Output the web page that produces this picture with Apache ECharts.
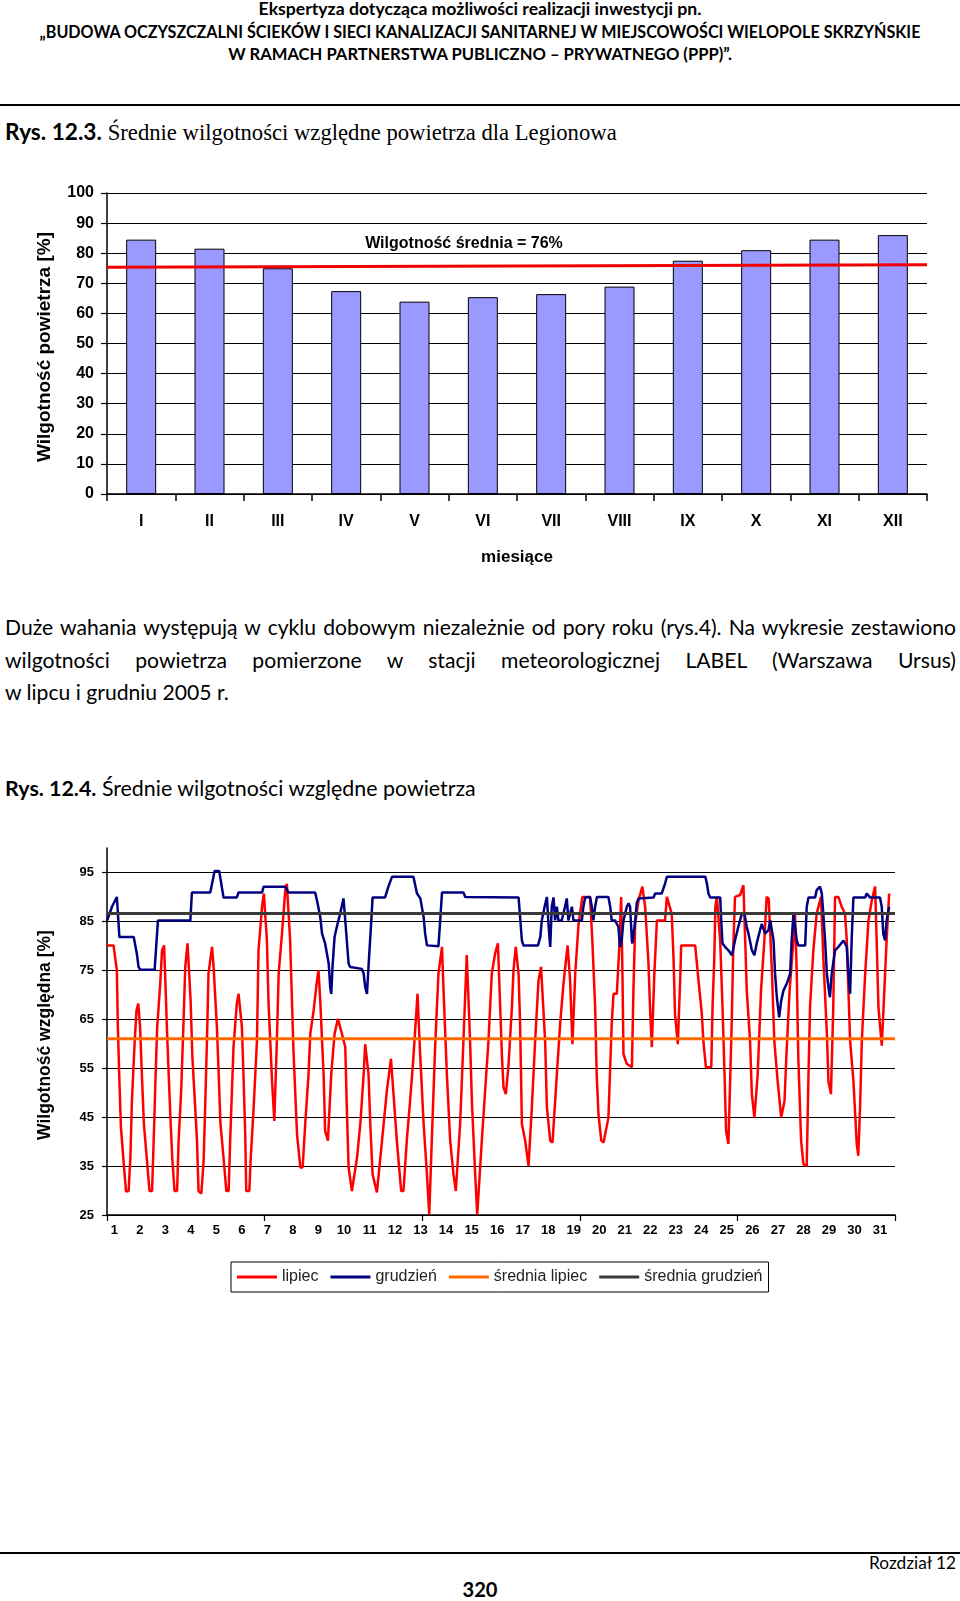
<!DOCTYPE html>
<html><head><meta charset="utf-8">
<script src="https://cdn.jsdelivr.net/npm/echarts@6.0.0/dist/echarts.min.js"></script>
<style>
html,body{margin:0;padding:0;background:#fff;}
body{width:960px;height:1601px;position:relative;overflow:hidden;font-family:Lato,'Open Sans',sans-serif;color:#000;}
.t{position:absolute;white-space:nowrap;line-height:1;}
.rule{position:absolute;left:0;width:960px;background:#000;}
.serif{font-family:'Liberation Serif','DejaVu Serif',serif;}
#c1{position:absolute;left:0;top:150px;width:960px;height:430px;}
#c2{position:absolute;left:0;top:800px;width:960px;height:520px;}
</style></head><body>
<div class="t" id="h1" style="font-weight:bold;font-size:15px"><span>Ekspertyza dotycząca możliwości realizacji inwestycji pn.</span></div>
<div class="t" id="h2" style="font-weight:bold;font-size:15px"><span>„BUDOWA OCZYSZCZALNI ŚCIEKÓW I SIECI KANALIZACJI SANITARNEJ W MIEJSCOWOŚCI WIELOPOLE SKRZYŃSKIE</span></div>
<div class="t" id="h3" style="font-weight:bold;font-size:15px"><span>W RAMACH PARTNERSTWA PUBLICZNO – PRYWATNEGO (PPP)”.</span></div>
<div class="rule" style="top:104px;height:2px"></div>
<div class="t" id="cap1" style="font-size:19px"><span><b>Rys. 12.3.</b> <span class="serif">Średnie wilgotności względne powietrza dla Legionowa</span></span></div>
<div id="c1"></div>
<div class="t" id="p1" style="font-size:19px"><span>Duże wahania występują w cyklu dobowym niezależnie od pory roku (rys.4). Na wykresie zestawiono</span></div>
<div class="t" id="p2" style="font-size:19px"><span>wilgotności powietrza pomierzone w stacji meteorologicznej LABEL (Warszawa Ursus)</span></div>
<div class="t" id="p3" style="font-size:19px"><span>w lipcu i grudniu 2005 r.</span></div>
<div class="t" id="cap2" style="font-size:19px"><span><b>Rys. 12.4.</b> Średnie wilgotności względne powietrza</span></div>
<div id="c2"></div>
<div class="rule" style="top:1552px;height:2px"></div>
<div class="t" id="f1" style="font-size:16px"><span>Rozdział 12</span></div>
<div class="t" id="f2" style="font-weight:bold;font-size:20px"><span>320</span></div>
<script>
// ---------- Chart 1 data ----------
const months = ['I','II','III','IV','V','VI','VII','VIII','IX','X','XI','XII'];
const monthlyHumidity = [84.5, 81.5, 75.0, 67.4, 63.9, 65.4, 66.4, 68.9, 77.5, 81.0, 84.5, 86.0];
const meanLine = [75.3, 76.2];
const meanLabel = 'Wilgotność średnia = 76%';

// ---------- Chart 2 data ----------
const dayLabels = [1,2,3,4,5,6,7,8,9,10,11,12,13,14,15,16,17,18,19,20,21,22,23,24,25,26,27,28,29,30,31];
const humTicks = [25,35,45,55,65,75,85,95];
const avgLipiec = 61.0;
const avgGrudzien = 86.6;
const lipiec = [
[0.71,80.1],[0.97,80.1],[1.10,75.0],[1.14,63.4],[1.20,52.4],[1.26,42.9],[1.36,36.1],[1.46,29.8],[1.56,29.9],[1.63,36.7],[1.69,48.3],[1.80,60.6],[1.87,66.8],[1.94,68.2],[2.01,63.4],[2.08,53.8],[2.16,43.6],[2.28,36.1],[2.38,29.9],[2.48,29.9],[2.55,41.5],[2.62,53.8],[2.68,63.4],[2.80,72.3],[2.87,79.1],[2.95,80.1],[3.00,72.9],[3.06,63.4],[3.13,53.8],[3.21,43.6],[3.27,36.7],[3.36,29.9],[3.46,29.9],[3.52,40.2],[3.62,50.4],[3.71,64.1],[3.78,75.7],[3.87,80.5],[3.94,80.1],[3.99,68.8],[4.06,57.2],[4.17,47.0],[4.24,40.2],[4.30,29.9],[4.41,29.4],[4.50,36.1],[4.56,47.0],[4.63,60.6],[4.69,74.3],[4.83,79.8],[4.89,75.7],[5.02,63.4],[5.09,53.8],[5.16,43.6],[5.28,36.7],[5.39,29.9],[5.48,29.9],[5.54,40.2],[5.67,59.3],[5.80,68.2],[5.87,70.2],[6.00,63.4],[6.06,53.8],[6.13,41.5],[6.17,29.9],[6.29,29.9],[6.34,36.1],[6.46,47.0],[6.59,60.6],[6.65,79.1],[6.79,88.0],[6.86,90.7],[6.98,81.1],[7.04,68.8],[7.18,52.4],[7.27,44.2],[7.37,60.6],[7.44,74.3],[7.57,82.5],[7.70,91.4],[7.76,92.7],[7.89,81.1],[8.02,58.6],[8.16,41.5],[8.29,34.7],[8.38,34.7],[8.48,43.6],[8.61,53.8],[8.68,62.0],[8.81,66.8],[8.94,72.9],[9.00,75.0],[9.07,68.8],[9.14,60.6],[9.20,53.8],[9.26,42.2],[9.37,40.2],[9.50,53.8],[9.63,62.0],[9.76,65.1],[9.92,62.0],[10.05,59.3],[10.11,47.0],[10.18,34.7],[10.31,29.9],[10.51,36.7],[10.64,43.6],[10.77,53.8],[10.83,59.9],[10.96,53.8],[11.03,43.6],[11.12,33.3],[11.29,29.6],[11.49,40.2],[11.68,50.4],[11.84,56.9],[11.94,49.7],[12.07,40.2],[12.24,29.9],[12.33,29.9],[12.46,40.2],[12.59,48.3],[12.72,57.2],[12.88,70.2],[12.99,57.2],[13.12,43.6],[13.25,33.3],[13.34,25.1],[13.44,40.2],[13.57,59.3],[13.70,74.3],[13.84,79.8],[13.90,70.9],[14.03,53.8],[14.16,40.2],[14.29,33.3],[14.38,29.9],[14.55,43.6],[14.68,60.6],[14.81,78.1],[14.94,60.6],[15.01,48.3],[15.14,33.3],[15.22,25.1],[15.40,40.2],[15.53,50.4],[15.66,60.6],[15.79,74.3],[15.92,78.4],[16.03,80.5],[16.12,67.5],[16.19,57.2],[16.25,51.1],[16.34,49.7],[16.44,55.2],[16.58,67.5],[16.64,75.0],[16.73,79.8],[16.84,74.3],[16.90,64.1],[16.97,43.6],[17.10,40.2],[17.23,35.0],[17.36,47.0],[17.49,60.6],[17.62,72.9],[17.72,75.7],[17.88,60.6],[17.95,47.0],[18.08,40.2],[18.17,39.8],[18.34,53.8],[18.47,64.1],[18.60,72.3],[18.76,80.1],[18.86,72.9],[18.95,59.9],[19.06,74.3],[19.19,84.5],[19.34,90.0],[19.64,90.0],[19.73,81.1],[19.84,67.5],[19.90,53.8],[19.97,45.6],[20.08,40.2],[20.17,39.8],[20.36,44.9],[20.43,55.2],[20.49,64.1],[20.56,70.2],[20.69,70.2],[20.78,79.1],[20.86,90.0],[20.91,74.3],[20.95,57.9],[21.08,55.9],[21.28,55.2],[21.34,70.9],[21.41,84.5],[21.54,89.3],[21.69,92.1],[21.80,88.0],[21.93,76.4],[21.99,67.5],[22.06,59.3],[22.16,74.3],[22.26,85.2],[22.58,85.2],[22.65,90.0],[22.71,90.4],[22.84,86.6],[22.91,77.7],[22.97,66.1],[23.08,59.9],[23.18,74.3],[23.21,80.1],[23.76,80.1],[23.82,79.8],[23.89,72.9],[24.02,66.1],[24.08,60.6],[24.18,55.2],[24.39,55.2],[24.44,67.5],[24.51,77.7],[24.55,88.0],[24.61,90.0],[24.74,81.1],[24.83,67.5],[24.91,53.8],[24.97,42.2],[25.06,39.5],[25.12,50.4],[25.19,64.1],[25.25,79.1],[25.32,90.0],[25.52,90.4],[25.65,92.4],[25.72,81.1],[25.78,70.9],[25.91,60.6],[25.98,49.7],[26.08,44.9],[26.21,53.8],[26.34,70.9],[26.47,81.1],[26.56,90.0],[26.64,89.7],[26.69,83.9],[26.77,74.3],[26.86,60.6],[26.99,52.4],[27.13,44.9],[27.26,48.3],[27.33,57.2],[27.46,70.9],[27.59,79.8],[27.67,86.9],[27.74,74.3],[27.80,57.2],[27.91,40.2],[28.00,35.4],[28.13,35.0],[28.20,53.8],[28.26,67.5],[28.39,79.1],[28.52,86.6],[28.69,90.0],[28.78,77.7],[28.92,62.0],[28.98,52.4],[29.08,49.7],[29.17,67.5],[29.24,90.0],[29.37,90.0],[29.50,88.0],[29.63,86.6],[29.70,81.1],[29.83,60.6],[29.96,52.4],[30.09,39.5],[30.15,37.1],[30.22,47.0],[30.29,60.6],[30.42,74.3],[30.55,85.2],[30.68,89.3],[30.81,92.1],[30.87,81.1],[30.94,67.5],[31.07,59.6],[31.13,66.1],[31.20,74.3],[31.26,81.1],[31.36,90.7]
];
const grudzien = [
[0.72,85.2],[0.91,88.0],[1.10,90.0],[1.20,81.8],[1.76,81.8],[1.88,78.5],[1.95,75.7],[2.02,75.1],[2.58,75.1],[2.65,80.5],[2.71,85.2],[3.98,85.2],[4.04,90.9],[4.76,90.9],[4.93,95.3],[5.11,95.3],[5.28,89.9],[5.80,89.9],[5.87,90.9],[6.79,90.9],[6.85,92.1],[7.70,92.1],[7.83,90.9],[8.87,90.9],[8.94,89.3],[9.07,85.9],[9.14,82.5],[9.26,80.5],[9.40,76.4],[9.46,71.6],[9.50,70.2],[9.55,75.7],[9.63,81.8],[9.72,83.9],[9.85,86.6],[9.98,89.7],[10.05,85.2],[10.11,81.1],[10.18,76.4],[10.24,75.7],[10.70,75.3],[10.77,74.3],[10.83,71.6],[10.90,70.2],[10.96,75.7],[11.07,85.2],[11.12,89.9],[11.61,89.9],[11.74,92.1],[11.88,94.1],[12.72,94.1],[12.86,90.7],[12.99,89.7],[13.12,85.9],[13.18,82.5],[13.25,80.1],[13.70,79.9],[13.77,85.2],[13.84,90.9],[14.68,90.9],[14.75,90.0],[16.84,89.9],[16.90,85.9],[16.97,81.1],[17.03,80.1],[17.60,80.1],[17.69,81.8],[17.75,85.2],[17.86,88.0],[17.95,90.0],[18.01,84.5],[18.08,79.8],[18.14,88.0],[18.21,89.9],[18.27,85.2],[18.34,88.0],[18.40,85.2],[18.53,85.2],[18.66,88.0],[18.73,89.7],[18.79,85.2],[18.93,88.0],[18.99,85.2],[19.32,85.2],[19.38,88.0],[19.45,89.9],[19.64,90.0],[19.71,88.0],[19.77,85.2],[19.84,88.0],[19.91,90.0],[20.36,90.0],[20.43,88.0],[20.49,85.2],[20.62,85.2],[20.75,83.9],[20.82,79.8],[20.88,81.1],[20.95,85.2],[21.08,88.0],[21.15,88.7],[21.21,88.0],[21.28,81.1],[21.30,80.5],[21.41,85.2],[21.47,88.7],[21.54,89.7],[22.13,89.9],[22.19,90.7],[22.45,90.7],[22.58,92.7],[22.65,94.1],[24.16,94.1],[24.22,92.7],[24.28,90.7],[24.35,89.9],[24.74,89.9],[24.78,85.2],[24.83,80.5],[24.93,79.8],[25.06,79.1],[25.20,78.1],[25.32,81.1],[25.45,83.9],[25.59,86.6],[25.69,86.6],[25.78,83.9],[25.85,82.5],[25.98,79.1],[26.08,78.1],[26.17,80.5],[26.30,83.2],[26.37,84.5],[26.50,82.5],[26.63,83.2],[26.70,85.2],[26.76,85.2],[26.83,81.1],[26.89,74.3],[26.96,69.5],[27.05,65.4],[27.13,68.8],[27.22,70.9],[27.35,72.3],[27.48,74.3],[27.54,81.1],[27.61,86.6],[27.67,86.9],[27.74,81.1],[27.80,80.1],[28.07,80.1],[28.13,88.0],[28.20,89.9],[28.46,89.9],[28.52,91.4],[28.65,92.1],[28.72,90.7],[28.78,86.6],[28.85,81.1],[28.92,74.3],[28.98,71.6],[29.04,69.5],[29.11,74.3],[29.24,79.1],[29.37,79.8],[29.57,81.1],[29.70,79.8],[29.76,74.3],[29.83,70.2],[29.89,81.1],[29.96,89.9],[30.42,89.9],[30.48,90.7],[30.61,89.9],[31.00,89.9],[31.07,88.0],[31.13,82.5],[31.20,81.1],[31.26,85.2],[31.36,88.0]
];

// ---------- text layout ----------
function place(id, o) {
  const el = document.getElementById(id);
  const sp = el.firstElementChild;
  if (o.w) {
    const fs = parseFloat(el.style.fontSize);
    const w = sp.getBoundingClientRect().width;
    el.style.fontSize = (fs * o.w / w).toFixed(2) + 'px';
  }
  const fs2 = parseFloat(el.style.fontSize);
  const w2 = sp.getBoundingClientRect().width;
  const left = o.cx !== undefined ? o.cx - w2 / 2 : (o.right !== undefined ? o.right - w2 : o.x);
  el.style.left = left + 'px';
  el.style.top = (o.cy - 0.56 * fs2) + 'px';
  return fs2;
}
place('h1', {w: 443, cx: 480, cy: 10});
place('h2', {w: 882, cx: 480, cy: 33});
place('h3', {w: 504, cx: 480, cy: 55});
place('cap1', {w: 612, x: 5, cy: 134});
const pfs = place('p3', {w: 224, x: 5, cy: 694});
['p1', 'p2'].forEach((id, i) => {
  const el = document.getElementById(id);
  el.style.fontSize = pfs + 'px';
  const sp = el.firstElementChild;
  const w = sp.getBoundingClientRect().width;
  const n = (sp.textContent.match(/ /g) || []).length;
  sp.style.wordSpacing = ((951 - w) / n).toFixed(3) + 'px';
  el.style.left = '5px';
  el.style.top = ([629, 662][i] - 0.56 * pfs) + 'px';
});
place('cap2', {w: 471, x: 5, cy: 790});
place('f1', {w: 87, right: 956, cy: 1564});
place('f2', {w: 35, cx: 480, cy: 1590});

// ---------- chart 1 ----------
const F = "'Liberation Sans', Arial, sans-serif";
const c1 = echarts.init(document.getElementById('c1'), null, {renderer: 'canvas'});
c1.setOption({
  animation: false,
  grid: {left: 107, top: 43, width: 820, height: 301, outerBoundsMode: 'none'},
  xAxis: [{
    type: 'category', data: months,
    axisLine: {lineStyle: {color: '#000', width: 1.5}},
    axisTick: {show: true, length: 7, alignWithLabel: false, lineStyle: {color: '#000', width: 1.5}},
    axisLabel: {margin: 20, fontSize: 16, fontWeight: 'bold', color: '#000', fontFamily: F, interval: 0},
    splitLine: {show: false},
    name: 'miesiące', nameLocation: 'middle', nameGap: 55,
    nameTextStyle: {fontSize: 17, fontWeight: 'bold', color: '#000', fontFamily: F}
  }, {type: 'value', min: 0, max: 1, show: false}],
  yAxis: {
    type: 'value', min: 0, max: 100, interval: 10,
    axisLine: {show: true, lineStyle: {color: '#000', width: 1.5}},
    axisTick: {show: true, length: 6, lineStyle: {color: '#000', width: 1.2}},
    axisLabel: {margin: 13, fontSize: 16, fontWeight: 'bold', color: '#000', fontFamily: F, showMinLabel: true, showMaxLabel: true},
    splitLine: {show: true, lineStyle: {color: '#000', width: 1.2}}
  },
  series: [{
    type: 'bar', data: monthlyHumidity, barWidth: 30,
    itemStyle: {color: '#9999FF', borderColor: '#000', borderWidth: 1}
  }, {
    type: 'line', xAxisIndex: 1, data: [[0, meanLine[0]], [1, meanLine[1]]],
    symbol: 'none', lineStyle: {color: '#F00000', width: 3}, z: 5
  }],
  graphic: [
    {type: 'text', x: 45, y: 197, rotation: Math.PI / 2,
     style: {text: 'Wilgotność powietrza [%]', font: "bold 19px 'Liberation Sans', Arial, sans-serif", fill: '#000', align: 'center', verticalAlign: 'middle'}},
    {type: 'text', x: 464, y: 94,
     style: {text: meanLabel, font: "bold 16px 'Liberation Sans', Arial, sans-serif", fill: '#000', align: 'center', verticalAlign: 'middle'}}
  ]
});

// ---------- chart 2 ----------
const X0 = 0.714, X1 = 31.589;
const c2 = echarts.init(document.getElementById('c2'), null, {renderer: 'canvas'});
c2.setOption({
  animation: false,
  grid: {left: 107, top: 48, width: 788, height: 367, outerBoundsMode: 'none'},
  legend: {
    left: 231, top: 462, icon: 'rect', itemWidth: 40, itemHeight: 3, itemGap: 12,
    data: ['lipiec', 'grudzień', 'średnia lipiec', 'średnia grudzień'],
    borderColor: '#000', borderWidth: 1, padding: [7, 6, 7, 6],
    textStyle: {fontSize: 16, color: '#222', fontFamily: F}
  },
  xAxis: {
    type: 'value', min: X0, max: X1,
    axisLine: {lineStyle: {color: '#000', width: 1.5}},
    axisTick: {show: true, length: 6, customValues: [0.714, 6.889, 13.064, 19.239, 25.414, 31.589], lineStyle: {color: '#000', width: 1.2}},
    axisLabel: {customValues: dayLabels, margin: 9, fontSize: 13, fontWeight: 'bold', color: '#000', fontFamily: F, formatter: v => String(Math.round(v))},
    splitLine: {show: false}
  },
  yAxis: {
    type: 'value', min: 25, max: 100,
    axisLine: {show: true, lineStyle: {color: '#000', width: 1.5}},
    axisTick: {show: true, length: 5, customValues: humTicks, lineStyle: {color: '#000', width: 1.2}},
    axisLabel: {customValues: humTicks, margin: 13, fontSize: 13, fontWeight: 'bold', color: '#000', fontFamily: F},
    splitLine: {show: true, lineStyle: {color: '#000', width: 1.2}}
  },
  series: [
    {name: 'lipiec', type: 'line', data: lipiec, symbol: 'none', lineStyle: {color: '#FF0000', width: 2.5}, itemStyle: {color: '#FF0000'}, z: 2},
    {name: 'grudzień', type: 'line', data: grudzien, symbol: 'none', lineStyle: {color: '#000080', width: 2.5}, itemStyle: {color: '#000080'}, z: 3},
    {name: 'średnia lipiec', type: 'line', data: [[X0, avgLipiec], [X1, avgLipiec]], symbol: 'none', lineStyle: {color: '#FF6A00', width: 3}, itemStyle: {color: '#FF6A00'}, z: 4},
    {name: 'średnia grudzień', type: 'line', data: [[X0, avgGrudzien], [X1, avgGrudzien]], symbol: 'none', lineStyle: {color: '#3a3a3a', width: 3}, itemStyle: {color: '#3a3a3a'}, z: 4}
  ],
  graphic: [
    {type: 'text', x: 45, y: 235, rotation: Math.PI / 2,
     style: {text: 'Wilgotność względna [%]', font: "bold 17.5px 'Liberation Sans', Arial, sans-serif", fill: '#000', align: 'center', verticalAlign: 'middle'}}
  ]
});
</script>
</body></html>
